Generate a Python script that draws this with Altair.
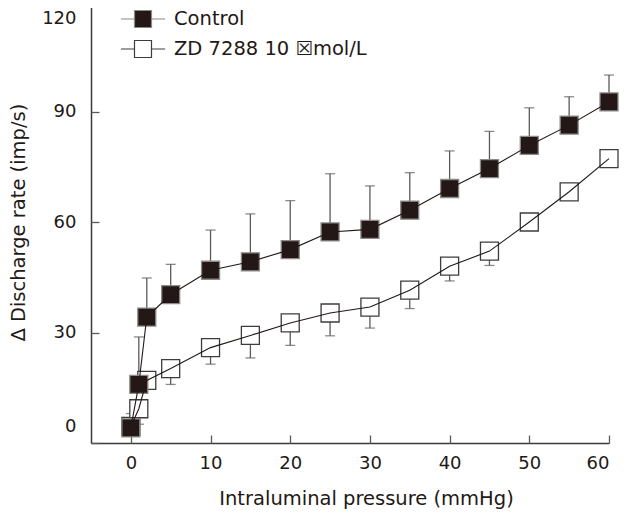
import altair as alt
import pandas as pd

# ---- data ----
pressure = [0, 1, 2, 5, 10, 15, 20, 25, 30, 35, 40, 45, 50, 55, 60]
control_mean = [4.1, 15.9, 34.2, 40.3, 46.9, 49.2, 52.5, 57.3, 58.0, 63.2, 69.1, 74.5, 80.8, 86.3, 92.6]
control_upper = [8.0, 28.8, 44.8, 48.5, 57.8, 62.2, 65.8, 73.1, 69.8, 73.4, 79.3, 84.6, 91.0, 94.0, 99.9]
zd_mean = [4.5, 9.3, 17.0, 20.2, 25.9, 29.2, 32.6, 35.3, 36.9, 41.5, 48.0, 52.1, 60.0, 68.2, 77.2]
zd_lower = [2.5, 5.1, 15.0, 15.9, 21.4, 23.1, 26.5, 29.1, 31.2, 36.5, 44.0, 48.2, 58.0, 66.5, 75.5]

series_names = ["Control", "ZD 7288 10 ☒mol/L"]
x_ticks = [0, 10, 20, 30, 40, 50, 60]
y_ticks = [0, 30, 60, 90, 120]

rows = []
for p, m, e in zip(pressure, zd_mean, zd_lower):
    rows.append({"pressure": p, "value": m, "err": e, "series": series_names[1]})
for p, m, e in zip(pressure, control_mean, control_upper):
    rows.append({"pressure": p, "value": m, "err": e, "series": series_names[0]})
df = pd.DataFrame(rows)

W, H = 518, 442
FONT = "DejaVu Sans"
INK = "#231815"

xscale = alt.Scale(domain=[-5, 60], nice=False, zero=False)
yscale = alt.Scale(domain=[0, 120], nice=False)

base = alt.Chart(df)

err_rules = base.mark_rule(color="#5a5a5a", strokeWidth=1.3).encode(
    x=alt.X("pressure:Q", scale=xscale, axis=None),
    y=alt.Y("value:Q", scale=yscale, axis=None),
    y2="err:Q",
)
err_caps = base.mark_tick(orient="horizontal", size=10, thickness=1.3, color="#5a5a5a").encode(
    x=alt.X("pressure:Q", scale=xscale, axis=None),
    y=alt.Y("err:Q", scale=yscale, axis=None),
)

points = base.mark_point(shape="square", size=324, filled=True, opacity=1, strokeWidth=1.3).encode(
    x=alt.X("pressure:Q", scale=xscale,
            axis=alt.Axis(values=x_ticks, ticks=False, grid=False, labelPadding=11,
                          title="Intraluminal pressure (mmHg)", titleX=275, titleY=55,
                          titleBaseline="middle")),
    y=alt.Y("value:Q", scale=yscale,
            axis=alt.Axis(values=y_ticks, ticks=False, grid=False, labelPadding=15,
                          labelFlush=True, labelFlushOffset=-8,
                          title="∆ Discharge rate (imp/s)",
                          titleX=-73, titleBaseline="middle")),
    fill=alt.Fill("series:N",
                  scale=alt.Scale(domain=series_names, range=[INK, "white"]),
                  legend=alt.Legend(orient="none", legendX=34, legendY=0, title=None,
                                    padding=0, rowPadding=1,
                                    symbolType="M-1.3,0H-0.5M0.5,0H1.3M-0.5,-0.5H0.5V0.5H-0.5Z",
                                    symbolSize=1156, symbolStrokeColor=INK, symbolStrokeWidth=1.2,
                                    symbolOpacity=1, labelOffset=13, labelFont=FONT,
                                    labelFontSize=19.5, labelColor=INK, labelLimit=400)),
    stroke=alt.Stroke("series:N",
                      scale=alt.Scale(domain=series_names, range=["#8a8a8a", "#3c3c3c"]),
                      legend=None),
)

lines = base.mark_line(color=INK, strokeWidth=1.1).encode(
    x=alt.X("pressure:Q", scale=xscale,
            axis=alt.Axis(orient="top", offset=-H, values=x_ticks, labels=False, domain=False,
                          ticks=True, tickSize=8, grid=False, title=None)),
    y=alt.Y("value:Q", scale=yscale,
            axis=alt.Axis(orient="right", offset=-W, values=y_ticks, labels=False, domain=False,
                          ticks=True, tickSize=8, grid=False, title=None)),
    detail="series:N",
)

chart = alt.layer(err_rules, err_caps, points, lines).resolve_axis(
    x="independent", y="independent"
).properties(
    width=W, height=H, autosize="none",
    padding={"left": 83, "top": -7, "right": 12, "bottom": 67},
).configure_view(stroke=None).configure_axis(
    labelFont=FONT, labelFontSize=18, labelColor=INK,
    titleFont=FONT, titleFontSize=19.5, titleFontWeight="normal", titleColor=INK,
    domainColor="#3a3a3a", domainWidth=1.5, tickColor="#5a5a5a", tickWidth=1.3,
)

chart.save("out.html", embed_options={"renderer": "svg", "actions": False})
